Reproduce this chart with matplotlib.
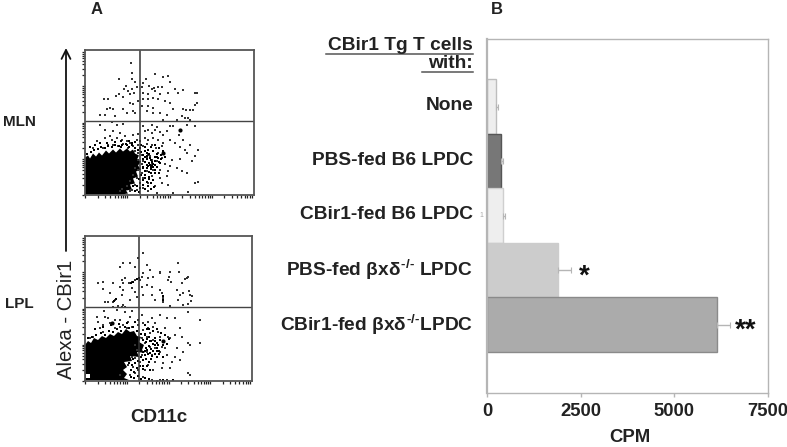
import numpy as np
import matplotlib
matplotlib.use("Agg")
import matplotlib.pyplot as plt
from matplotlib.lines import Line2D
from matplotlib.patches import FancyArrowPatch

plt.rcParams["font.family"] = ["Liberation Sans", "DejaVu Sans"]
plt.rcParams["mathtext.fontset"] = "custom"
plt.rcParams["mathtext.rm"] = "Liberation Sans:bold"
plt.rcParams["mathtext.it"] = "Liberation Sans:bold"
plt.rcParams["mathtext.bf"] = "Liberation Sans:bold"

W, H = 787, 447

# bar panel values
categories = ["None", "PBS-fed B6 LPDC", "CBir1-fed B6 LPDC",
              r"PBS-fed $\beta$x$\delta^{\text{-/-}}$ LPDC",
              r"CBir1-fed $\beta$x$\delta^{\text{-/-}}$LPDC"]
cpm = [232, 365, 435, 1903, 6138]
cpm_err = [70, 55, 55, 335, 345]
stars = ["", "", "", "*", "**"]
bar_colors = ["#eeeeee", "#777777", "#eeeeee", "#cccccc", "#ababab"]
bar_edges = ["#bdbdbd", "#555555", "#cfcfcf", "#cccccc", "#8a8a8a"]
cpm_ticks = [0, 2500, 5000, 7500]

# flow panels: events in display channels, CD11c / Alexa-CBir1
mln_x = [46,34,47,47,50,61,70,78,83,85,77,73,69,64,58,57,52,41,39,43,47,34,38,45,49,58,63,67,70,75,83,90,93,45,48,53,58,63,68,73,80,85,23,19,31,28,25,22,30,38,48,57,63,68,62,68,75,82,88,97,103,112,110,15,20,50,42,78,92,98,
         98,112,112,110,108,105,101,98,97,100,105,
         15,27,32,38,58,67,72,85,88,94,102,110,20,28,35,40,48,53,60,63,67,70,75,78,82,20,25,
         12,27,32,37,42,45,52,55,60,63,68,73,78,85,90,98,8,18,23,28,33,38,43,48,53,58,62,67,71,77,95,105,
         50,53,57,60,63,65,68,73,78,102,100,110,113,53,58,62,67,72,77,87,95,107,80,85,57,67,
         50,53,57,62,68,75,83,92,97,102,48,52,58,67,75,82,110,113,45,50,55,63,70,77,83,42,37,47,52,58,35,45,63,72,83,88,103]
mln_y = [132,116,122,116,113,116,121,118,119,113,108,108,107,109,112,108,108,109,106,104,106,101,98,101,102,102,101,106,104,101,102,106,102,92,91,94,96,96,97,96,94,92,96,96,99,86,87,86,79,86,84,89,89,87,84,82,82,80,86,79,77,92,102,80,80,82,82,75,75,86,
         105,102,92,90,85,85,85,86,79,77,75,
         70,73,70,71,69,70,68,69,69,60,70,69,65,64,62,59,60,61,64,65,62,65,63,60,64,57,59,
         54,55,57,55,54,52,55,54,57,55,57,55,52,55,52,55,47,47,50,50,49,51,47,49,50,49,51,50,47,49,48,50,
         44,42,40,44,40,39,44,42,44,42,45,39,45,35,34,37,35,34,37,35,36,34,31,29,31,31,
         27,25,22,24,25,25,24,27,24,22,20,17,17,19,17,19,12,13,14,10,12,12,9,12,10,9,6,5,5,7,4,4,4,2,0,2,3]
mln_dense_x = [2,6,9,13,16,20,23,27,30,34,37,41,44,47,50,53,56,58,5,10,15,22,30,36,44,50,56,60,63,66,70,74,78,
               58,60,62,64,66,68,70,72,74,76,58,60,62,64,66,68,70,72,74,60,64,68,72,76,80,56,58,60,62,64,66,68,54,52,55,58,60,63,66,69,48,50,54,65,63,67,67,65,62,
               58,62,66,70,60,64,66,70,62,55,47,42,36,60,70,73,75]
mln_dense_y = [41,43,45,46,48,47,49,48,50,49,50,51,48,50,47,45,43,40,48,50,52,52,53,54,54,53,50,48,45,48,50,47,44,
               36,33,36,32,35,31,34,38,33,36,27,24,27,23,26,28,25,28,22,44,41,44,41,40,38,20,15,17,13,16,12,15,16,9,7,10,6,9,6,8,9,4,3,30,29,29,33,37,39,
               28,30,28,30,20,18,22,22,42,47,52,50,48,38,38,37,32]
mln_big_x = [95, 78]
mln_big_y = [65, 42]
mln_blob_x = [0,0,3,5,8,11,14,17,21,24,28,31,35,38,42,45,48,50,54,52,56,53,56,51,53,48,50,45,47,41,43,36]
mln_blob_y = [1,38,40,37,42,39,43,40,45,42,46,43,47,44,47,44,46,42,40,36,34,30,26,24,19,17,12,11,6,5,2,1]

lpl_x = [58,53,38,45,50,35,62,65,75,85,93,94,55,57,58,47,50,44,37,40,63,68,75,83,92,102,18,13,28,35,38,38,47,50,57,62,67,75,77,78,84,86,18,25,30,28,37,45,52,58,67,70,78,23,20,33,38,85,95,105,93,
         103,100,97,104,107,106,98,103,98,
         28,37,40,19,32,40,47,25,12,13,20,23,15,18,30,35,38,43,45,53,57,58,63,67,70,75,82,90,103,115,
         8,5,18,30,35,42,47,53,58,63,68,73,80,83,90,95,115,103,97,
         50,57,62,65,68,75,78,85,60,65,70,77,80,92,98,105,
         52,57,62,67,75,82,90,47,50,55,63,70,78,87,95,103,
         43,48,53,60,68,77,85,45,50,58,67,75,82,35,105]
lpl_y = [128,123,118,118,114,114,116,111,109,109,118,109,101,104,108,99,101,98,101,103,103,104,108,101,91,103,99,98,98,94,98,91,93,89,94,96,94,91,88,83,104,99,92,88,81,79,86,81,84,86,86,81,79,79,79,75,76,75,86,86,81,
         104,102,98,90,85,80,88,77,76,
         74,74,74,70,71,69,70,58,64,59,64,63,53,56,61,61,56,59,64,61,66,58,59,63,58,66,63,63,69,61,
         44,43,49,53,54,53,54,56,51,53,54,49,53,44,46,53,38,38,44,
         36,43,44,48,41,44,39,43,38,34,33,34,33,33,29,36,
         31,26,29,26,29,26,24,24,23,19,16,19,18,19,21,8,
         16,14,11,11,11,13,13,6,8,4,1,1,1,6,6]
lpl_dense_x = [46,48,52,54,78,78,29,31,3,7,11,16,20,24,28,32,36,40,44,48,52,56,60,58,61,61,10,18,26,34,42,50,60,64,68,72,76,80,84,
               62,65,68,70,72,75,78,82,64,66,68,70,72,58,60,62,65,67,70,72,74,50,48,53,56,58,61,64,44,47,50,46,49,52,55,58,62,65,46,49,53,56,60,64,72,78,88,
               60,64,66,70,60,63,66,58,56,62,73,72,74,78]
lpl_dense_y = [98,99,102,103,85,81,80,82,43,44,46,48,46,50,49,52,50,54,53,54,50,47,47,41,39,33,52,54,56,57,58,59,56,52,50,52,48,46,42,
               42,40,37,43,38,41,36,37,35,32,30,36,33,29,26,31,28,25,27,24,30,26,22,20,24,21,22,19,18,16,18,11,9,13,15,12,15,11,4,3,5,2,3,2,0,1,1,
               46,44,40,40,30,27,22,15,30,52,36,30,27,24]
lpl_big_x = [27, 78]
lpl_big_y = [58, 40]
lpl_blob_x = [0,0,3,6,9,13,17,21,25,29,33,37,41,45,49,52,56,54,59,57,60,52,54,45,47,39,42,38,42,39,44]
lpl_blob_y = [1,36,40,38,43,41,45,43,47,45,49,47,52,49,50,45,44,39,36,31,28,29,24,25,20,19,14,11,7,3,1]
lpl_gap_x = [3]
lpl_gap_y = [5]

DARK = "#222222"


def px_axes(fig, left, top, right, bottom):
    return fig.add_axes([left / W, 1 - bottom / H, (right - left) / W, (bottom - top) / H])


def flow_panel(fig, box, vline, hline, x, y, dense_x, dense_y, big_x, big_y, blob_x, blob_y):
    left, top, right, bottom = box
    ax = px_axes(fig, left, top, right, bottom)
    ax.set_xlim(0, right - left)
    ax.set_ylim(0, bottom - top)
    ax.fill(blob_x, blob_y, color="black", lw=0)
    ax.scatter(x, y, s=1.0, marker="s", color="#333333", lw=0)
    ax.scatter(dense_x, dense_y, s=3.0, marker="s", color="black", lw=0)
    ax.scatter(big_x, big_y, s=9, marker="o", color="black", lw=0)
    ax.axvline(vline - left, color="#333333", lw=1.1)
    ax.axhline(bottom - hline, color="#444444", lw=1.0)
    for name, spine in ax.spines.items():
        spine.set_color("#555555")
        spine.set_linewidth(1.3)

    # four log decades
    decade_x = (right - left) / 4
    decade_y = (bottom - top) / 4
    log_pos = np.log10(np.arange(1, 10))
    xt = np.concatenate([(d + log_pos) * decade_x for d in range(4)])
    yt = np.concatenate([(d + log_pos) * decade_y for d in range(4)])
    ax.set_xticks(xt)
    ax.set_yticks(yt)
    ax.tick_params(length=2.5, width=0.9, color="#222222", labelbottom=False, labelleft=False, pad=0)
    return ax


fig = plt.figure(figsize=(W / 100, H / 100), dpi=100, facecolor="white")

flow_panel(fig, (85, 50, 254, 195.5), 140, 121, mln_x, mln_y, mln_dense_x, mln_dense_y,
           mln_big_x, mln_big_y, mln_blob_x, mln_blob_y)
ax2 = flow_panel(fig, (85, 236, 252, 381), 139, 307, lpl_x, lpl_y, lpl_dense_x, lpl_dense_y,
                 lpl_big_x, lpl_big_y, lpl_blob_x, lpl_blob_y)
ax2.scatter(lpl_gap_x, lpl_gap_y, s=7, marker="s", color="white", lw=0, zorder=3)

# bar panel
ax = px_axes(fig, 487, 39, 768, 393)
ypos = np.arange(len(cpm))[::-1]
ax.barh(ypos, cpm, height=1.0, color=bar_colors, edgecolor=bar_edges, linewidth=1.0)
for yy, v, e, edge in zip(ypos, cpm, cpm_err, bar_edges):
    ax.errorbar(v + e / 2, yy, xerr=e / 2, color="#b5b5b5", lw=1.0, capsize=2.5, capthick=0.8)
for yy, v, e, s in zip(ypos, cpm, cpm_err, stars):
    if s:
        ax.text(v + e + 270 + 80 * len(s), yy - 0.12, s, fontsize=20, fontweight="bold", color="#111111",
                ha="center", va="center")
ax.text(-150, 2.0, "1", fontsize=5, color="#aaaaaa", ha="center", va="center")

ax.set_xlim(0, 7500)
ax.set_ylim(-1.257, 5.24)
ax.set_xticks(cpm_ticks)
ax.set_xticklabels([str(t) for t in cpm_ticks], fontsize=13.3, fontweight="bold", color=DARK)
ax.set_yticks(ypos + 0.05)
ax.set_yticklabels(categories, fontsize=13.8, fontweight="bold", color=DARK)
ax.tick_params(axis="y", length=0, pad=10)
ax.tick_params(axis="x", length=3, width=1, color="#b5b5b5", pad=4)
for name, spine in ax.spines.items():
    spine.set_color("#b5b5b5")
    spine.set_linewidth(1.0)
ax.spines["left"].set_linewidth(1.6)


def ftext(x, y, s, **kw):
    kw.setdefault("color", DARK)
    kw.setdefault("va", "center")
    fig.text(x / W, 1 - y / H, s, **kw)


ftext(473, 45, "CBir1 Tg T cells", fontsize=13.8, fontweight="bold", ha="right")
ftext(473, 64, "with:", fontsize=13.8, fontweight="bold", ha="right")
fig.add_artist(Line2D([326 / W, 473 / W], [1 - 53.5 / H] * 2, color="#555555", lw=1.1))
fig.add_artist(Line2D([422 / W, 473 / W], [1 - 72 / H] * 2, color="#555555", lw=1.1))

ftext(97, 9, "A", fontsize=12, fontweight="bold", ha="center")
ftext(497, 9, "B", fontsize=12, fontweight="bold", ha="center")
ftext(19, 122, "MLN", fontsize=11, fontweight="bold", ha="center")
ftext(19, 304, "LPL", fontsize=11, fontweight="bold", ha="center")
ftext(158.5, 418, "CD11c", fontsize=13.5, fontweight="bold", ha="center")
ftext(66, 319.5, "Alexa - CBir1", fontsize=14.6, ha="center", rotation=90)
ftext(630, 437, "CPM", fontsize=13.3, fontweight="bold", ha="center")

# long arrow up the side of the flow plots
fig.add_artist(FancyArrowPatch(
    (66 / W, 1 - 251 / H), (66 / W, 1 - 48 / H), transform=fig.transFigure,
    arrowstyle="->", mutation_scale=16, color="#111111", lw=1.3, shrinkA=0, shrinkB=0))

fig.savefig("out.png", dpi=100, facecolor="white")
